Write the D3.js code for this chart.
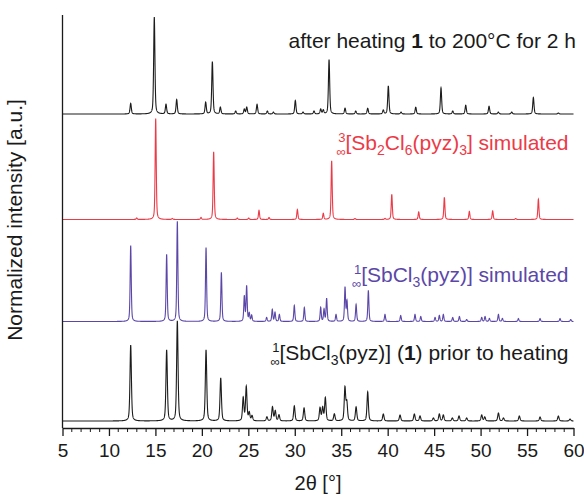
<!DOCTYPE html>
<html>
<head>
<meta charset="utf-8">
<script src="https://cdn.jsdelivr.net/npm/d3@7"></script>
<style>
  body { margin: 0; background: #fff; }
  text { font-family: "Liberation Sans", Arial, sans-serif; }
</style>
</head>
<body>
<div id="chart"></div>
<script>
// Peak lists (2theta in degrees, intensity in % of strongest peak)
const heatedPos = [12.34, 14.88, 16.14, 17.29, 20.41, 21.13, 21.99, 23.64, 24.57, 24.83, 25.94, 27.05, 27.7, 30.06, 30.89, 32.07, 32.79, 33.07, 33.69, 35.41, 36.56, 37.85, 39.53, 40.07, 41.44, 43.02, 45.74, 47.0, 48.4, 50.91, 51.91, 53.35, 55.68, 58.37];
const heatedInt = [11, 100, 10, 15, 12, 54, 7, 3, 5, 7, 10, 3, 2, 14, 2, 3, 5, 4, 56, 6, 3, 6, 4, 29, 2, 7, 27, 3, 9, 8, 2, 2, 17, 1];

const sb2Pos = [12.99, 15.03, 16.82, 19.91, 21.27, 23.82, 25.04, 26.15, 27.23, 30.28, 33.07, 33.97, 36.48, 39.71, 40.44, 43.34, 46.1, 48.79, 51.3, 53.78, 56.22];
const sb2Int = [1.5, 100, 1, 2, 67, 1.5, 1.5, 9, 2, 10, 6, 58, 1, 1, 25, 7.5, 22, 8, 8.5, 1, 20];

const simPos = [12.34, 16.21, 17.36, 20.45, 22.1, 24.57, 24.82, 25.1, 25.36, 26.97, 27.58, 27.87, 28.34, 29.95, 31.03, 32.79, 33.15, 33.43, 34.44, 35.41, 35.62, 36.6, 37.92, 39.71, 41.4, 42.94, 43.56, 45.1, 45.56, 45.99, 47.0, 47.72, 48.5, 50.12, 50.48, 50.95, 51.92, 52.35, 54.07, 56.4, 58.55, 59.7];
const simInt = [76, 67, 100, 74, 49, 25, 35, 8, 6, 4, 12, 9, 7, 16, 14, 14, 12, 23, 7, 34, 20, 17, 31, 7, 6, 7, 5, 4, 6, 7, 4, 5, 2, 4, 5, 3, 7, 3, 3, 3, 3, 2];

const expPos = [12.34, 16.21, 17.36, 20.45, 22.03, 24.45, 24.78, 25.1, 25.4, 27.0, 27.6, 27.9, 28.3, 29.95, 31.0, 32.72, 33.0, 33.29, 34.26, 35.4, 35.6, 36.6, 37.85, 39.53, 41.33, 42.87, 43.48, 44.92, 45.56, 45.99, 46.96, 47.68, 48.5, 50.12, 50.45, 51.92, 52.46, 54.17, 56.4, 58.37, 59.63];
const expInt = [76, 71, 100, 71, 43, 23, 34, 8, 5, 4, 14, 10, 6, 15, 13, 13, 13, 23, 7, 33, 18, 14, 29, 7, 6, 7, 5, 3, 7, 6, 3, 5, 3, 6, 4, 8, 3, 5, 4, 5, 2];

const traceNames = ["exp", "sim", "sb2", "heated"];
const traceColors = ["#1c1c1c", "#5b47a8", "#ec3a47", "#1c1c1c"];
const traceOffsets = [0.07, 1.065, 2.085, 3.14];
const traceScale = [1.0, 1.0, 1.01, 0.97];
const traceFwhm = [0.18, 0.14, 0.14, 0.16];

const xTicks = d3.range(5, 61, 5);

let margin = {top: 15, right: 10, bottom: 67, left: 62.5},
width = 584 - margin.left - margin.right,
height = 495 - margin.top - margin.bottom;

const svg = d3.select("#chart")
    .append("svg")
    .attr("width", 584)
    .attr("height", 495)
    .append("g")
    .attr("transform", `translate(${margin.left},${margin.top})`);

const xScale = d3.scaleLinear().domain([5, 60]).range([0, 573.5 - margin.left]);
const yScale = d3.scaleLinear().domain([0, 4.13]).range([height, 0]);

// pseudo-Voigt profile built from a peak list
function profile(pos, inten, fwhm) {
    const pts = [];
    const hw = fwhm / 2;
    for (let t = 5; t <= 60.0001; t += 0.01) {
        let s = 0;
        pos.forEach((p, i) => {
            const d = t - p;
            if (Math.abs(d) > 3) return;
            const lor = 1 / (1 + (d / hw) * (d / hw));
            const gau = Math.exp(-Math.LN2 * (d / hw) * (d / hw));
            s += inten[i] / 100 * (0.55 * gau + 0.45 * lor);
        });
        pts.push([t, s]);
    }
    return pts;
}

const peakData = {
    exp: [expPos, expInt],
    sim: [simPos, simInt],
    sb2: [sb2Pos, sb2Int],
    heated: [heatedPos, heatedInt]
};

const line = d3.line().x(d => xScale(d[0])).y(d => yScale(d[1]));

traceNames.forEach((name, i) => {
    const [p, v] = peakData[name];
    const pts = profile(p, v, traceFwhm[i]).map(d => [d[0], traceOffsets[i] + d[1] * traceScale[i]]);
    svg.append("path")
        .datum(pts)
        .attr("fill", "none")
        .attr("stroke", traceColors[i])
        .attr("stroke-width", 1.1)
        .attr("d", line);
});

// x axis
const xAxis = d3.axisBottom(xScale).tickValues(xTicks).tickSize(8).tickSizeOuter(0).tickPadding(8);
const xg = svg.append("g")
    .attr("transform", `translate(0, ${height})`)
    .call(xAxis);
xg.selectAll("text").attr("font-size", 19).attr("font-family", "Liberation Sans, Arial, sans-serif").attr("fill", "#1a1a1a");
xg.selectAll("line, path").attr("stroke", "#1a1a1a").attr("stroke-width", 1.3);

svg.append("g")
    .attr("transform", `translate(0, ${height})`)
    .selectAll("line")
    .data(d3.range(5, 61, 1).filter(d => d % 5 !== 0))
    .join("line")
    .attr("x1", d => xScale(d)).attr("x2", d => xScale(d))
    .attr("y1", 0).attr("y2", 4)
    .attr("stroke", "#1a1a1a").attr("stroke-width", 1);

// left axis (no ticks)
svg.append("line")
    .attr("x1", 0).attr("x2", 0)
    .attr("y1", 0).attr("y2", height)
    .attr("stroke", "#1a1a1a").attr("stroke-width", 1.3);

// axis labels
svg.append("text")
    .attr("x", (xScale(5) + xScale(60)) / 2)
    .attr("y", height + 62)
    .attr("text-anchor", "middle")
    .attr("font-size", 20)
    .attr("fill", "#1a1a1a")
    .text("2θ [°]");

svg.append("text")
    .attr("transform", "rotate(-90)")
    .attr("x", -(220 - margin.top))
    .attr("y", 22 - margin.left)
    .attr("text-anchor", "middle")
    .attr("font-size", 21)
    .attr("fill", "#1a1a1a")
    .text("Normalized intensity [a.u.]");

// trace labels: list of [text, kind] pieces; kind: n normal, b bold, s subscript, inf stacked infinity
function label(pieces, baseline, color) {
    const t = svg.append("text")
        .attr("y", baseline - margin.top)
        .attr("x", 0)
        .attr("font-size", 21)
        .attr("fill", color);
    let shift = 0;
    pieces.forEach(([str, kind]) => {
        if (kind === "inf") {
            t.append("tspan").attr("font-size", 13).attr("dy", 5.5 - shift).text("∞");
            t.append("tspan").attr("font-size", 13).attr("dx", -7.5).attr("dy", -14).text(str);
            shift = -8.5;
        } else if (kind === "s") {
            t.append("tspan").attr("font-size", 14).attr("dy", 5 - shift).text(str);
            shift = 5;
        } else {
            t.append("tspan").attr("dy", -shift)
                .attr("font-weight", kind === "b" ? "bold" : null)
                .text(str);
            shift = 0;
        }
    });
    const w = t.node().getComputedTextLength();
    t.attr("x", 576 - margin.left - w);
}

label([["after heating ", "n"], ["1", "b"], [" to 200°C for 2 h", "n"]], 48, "#1a1a1a");
label([["3", "inf"], ["[Sb", "n"], ["2", "s"], ["Cl", "n"], ["6", "s"], ["(pyz)", "n"], ["3", "s"], ["] simulated", "n"]], 150, traceColors[2]);
label([["1", "inf"], ["[SbCl", "n"], ["3", "s"], ["(pyz)] simulated", "n"]], 282, traceColors[1]);
label([["1", "inf"], ["[SbCl", "n"], ["3", "s"], ["(pyz)] (", "n"], ["1", "b"], [") prior to heating", "n"]], 360, "#1a1a1a");
</script>
</body>
</html>
